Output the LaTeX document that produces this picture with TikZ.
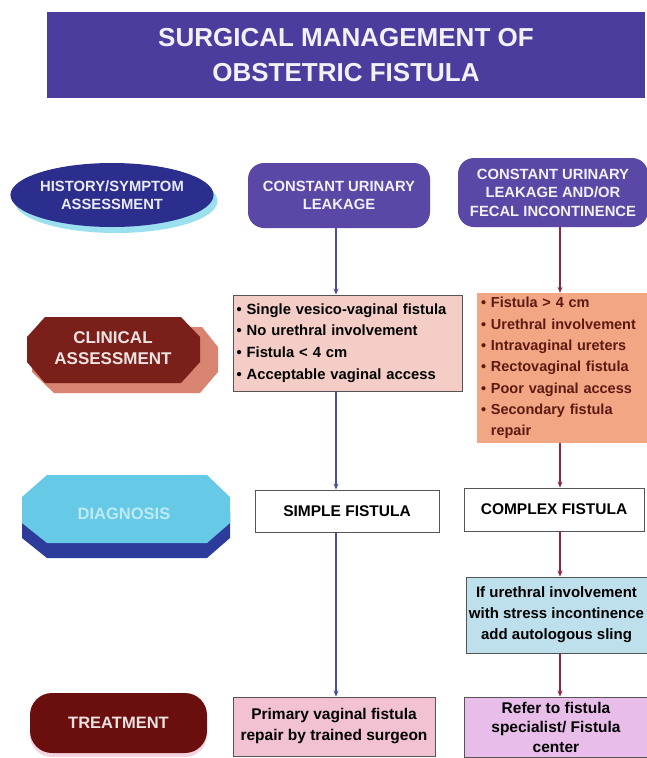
\documentclass[tikz,border=0pt]{standalone}
\usepackage{fontspec}
\setmainfont{Liberation Sans}
\usetikzlibrary{arrows.meta,shapes.geometric}

\definecolor{banner}{HTML}{4B3D9E}
\definecolor{navy}{HTML}{2C2E8E}
\definecolor{glow}{HTML}{9BE0EE}
\definecolor{plum}{HTML}{5A47A6}
\definecolor{brick}{HTML}{7A1F1A}
\definecolor{salmonsh}{HTML}{D88470}
\definecolor{blush}{HTML}{F4CEC6}
\definecolor{peach}{HTML}{F2A684}
\definecolor{peachtxt}{HTML}{5C1A12}
\definecolor{sky}{HTML}{66C9E6}
\definecolor{skytxt}{HTML}{BDEAF6}
\definecolor{deepblue}{HTML}{2D3B9B}
\definecolor{ice}{HTML}{BEE0EC}
\definecolor{maroon}{HTML}{6B0E0E}
\definecolor{rose}{HTML}{F2C2D2}
\definecolor{lilac}{HTML}{E9BDEA}
\definecolor{lineblue}{HTML}{4A4E9E}
\definecolor{linered}{HTML}{8C2A3C}
\definecolor{edge}{HTML}{555555}

\begin{document}
\begin{tikzpicture}[x=1pt,y=-1pt,
  lbl/.style={font=\bfseries\fontsize{14.8}{18.5}\selectfont, align=center, inner sep=0pt},
  headbox/.style={lbl, fill=plum, text=white!92!plum, rounded corners=16pt},
  stage/.style={font=\bfseries\fontsize{17}{21}\selectfont, align=center, inner sep=0pt},
  plainbox/.style={draw=edge, line width=0.9pt, inner sep=0pt, align=center},
  flowL/.style={draw=lineblue, line width=1.5pt, -{Stealth[length=6pt,width=5pt]}},
  flowR/.style={draw=linered, line width=1.5pt, -{Stealth[length=6pt,width=5pt]}}]

\useasboundingbox (0,0) rectangle (647,758);
\fill[white] (0,0) rectangle (647,758);

% column axes for the connectors
\coordinate (colL) at (336,0);
\coordinate (colR) at (560,0);

% title banner
\node[fill=banner, minimum width=598pt, minimum height=86pt, inner sep=0pt,
      text=white!93!banner, font=\bfseries\fontsize{26}{35}\selectfont, align=center]
  (banner) at (346,55) {SURGICAL MANAGEMENT OF\\OBSTETRIC FISTULA};

% row 1: history / symptom assessment
\node[ellipse, fill=glow, minimum width=203pt, minimum height=64pt, inner sep=0pt] (histglow) at (116,201) {};
\node[ellipse, fill=navy, minimum width=203pt, minimum height=64pt, lbl, text=white!90!navy]
  (hist) at (112,195) {HISTORY/SYMPTOM\\ASSESSMENT};
\node[headbox, minimum width=182pt, minimum height=65pt] (cul) at (339,195.5) {CONSTANT URINARY\\LEAKAGE};
\node[headbox, minimum width=190pt, minimum height=69pt] (cuf) at (553,192.5) {CONSTANT URINARY\\LEAKAGE AND/OR\\FECAL INCONTINENCE};

% row 2: clinical assessment
\fill[salmonsh] (50,327) -- (202,327) -- (218,347) -- (218,372) -- (200,393) -- (54,393) -- (32,372) -- (32,350) -- cycle;
\fill[brick] (45,317) -- (181,317) -- (200,337) -- (200,362) -- (181,383) -- (45,383) -- (27,362) -- (27,337) -- cycle;
\node[stage, text=white!88!brick] (clin) at (113,348) {CLINICAL\\ASSESSMENT};

\node[plainbox, fill=blush, minimum width=229pt, minimum height=96pt, text width=222pt, align=left,
      font=\bfseries\fontsize{14.8}{21.7}\selectfont]
  (clinL) at (347.5,343) {• Single vesico-vaginal fistula\\• No urethral involvement\\• Fistula < 4 cm\\• Acceptable vaginal access};
\node[fill=peach, inner sep=0pt, minimum width=170pt, minimum height=150pt, text width=162pt, align=left,
      text=peachtxt, font=\bfseries\fontsize{14.5}{21.3}\selectfont]
  (clinR) at (562,368) {• Fistula > 4 cm\\• Urethral involvement\\• Intravaginal ureters\\• Rectovaginal fistula\\• Poor vaginal access\\• Secondary fistula\\\phantom{• }repair};

% row 3: diagnosis
\fill[deepblue] (47,490) -- (207,490) -- (230,512) -- (230,538) -- (207,558) -- (47,558) -- (22,538) -- (22,512) -- cycle;
\fill[sky] (47,475) -- (207,475) -- (230,497) -- (230,523) -- (207,543) -- (47,543) -- (22,523) -- (22,497) -- cycle;
\node[stage, text=skytxt, font=\bfseries\fontsize{16.5}{20}\selectfont] (diag) at (124,514) {DIAGNOSIS};

\node[plainbox, fill=white, minimum width=184pt, minimum height=42pt, font=\bfseries\fontsize{15.5}{19}\selectfont]
  (simple) at (347,511) {SIMPLE FISTULA};
\node[plainbox, fill=white, minimum width=180pt, minimum height=43pt, font=\bfseries\fontsize{15.5}{19}\selectfont]
  (complex) at (554,509.5) {COMPLEX FISTULA};

\node[plainbox, fill=ice, minimum width=181pt, minimum height=76pt, font=\bfseries\fontsize{15}{21}\selectfont]
  (sling) at (556.5,615) {If urethral involvement\\with stress incontinence\\add autologous sling};

% row 4: treatment
\node[fill=rose!70, rounded corners=22pt, minimum width=177pt, minimum height=60pt, inner sep=0pt] (treatsh) at (118.5,727) {};
\node[fill=maroon, rounded corners=22pt, minimum width=177pt, minimum height=60pt, stage,
      text=white!88!maroon, font=\bfseries\fontsize{16.5}{20}\selectfont]
  (treat) at (118.5,723) {TREATMENT};

\node[plainbox, fill=rose, minimum width=202pt, minimum height=59pt, font=\bfseries\fontsize{15.5}{21}\selectfont]
  (primary) at (334,726.5) {Primary vaginal fistula\\repair by trained surgeon};
\node[plainbox, fill=lilac, minimum width=183pt, minimum height=60pt, font=\bfseries\fontsize{15.5}{19.5}\selectfont]
  (refer) at (556,727) {Refer to fistula\\specialist/ Fistula\\center};

% connectors
\draw[flowL] (cul.south -| colL) -- (clinL.north -| colL);
\draw[flowL] (clinL.south -| colL) -- (simple.north -| colL);
\draw[flowL] (simple.south -| colL) -- (primary.north -| colL);

\draw[flowR] (cuf.south -| colR) -- (clinR.north -| colR);
\draw[flowR] (clinR.south -| colR) -- (complex.north -| colR);
\draw[flowR] (complex.south -| colR) -- (sling.north -| colR);
\draw[flowR] (sling.south -| colR) -- (refer.north -| colR);

\end{tikzpicture}
\end{document}
